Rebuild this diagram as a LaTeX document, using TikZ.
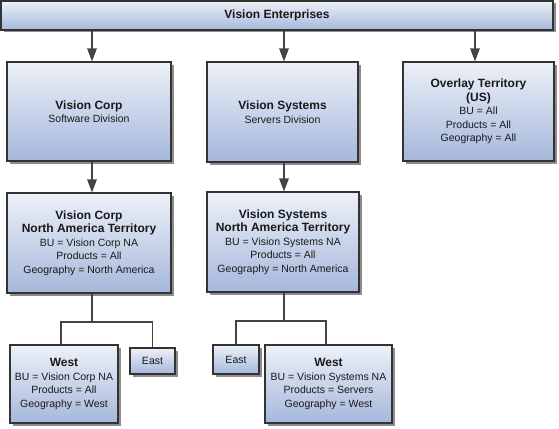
\documentclass[tikz,border=0pt]{standalone}
\usepackage{fontspec}
\setmainfont{Liberation Sans}
\usetikzlibrary{shadows,arrows.meta,calc}
\definecolor{boxtop}{HTML}{EDF1F8}
\definecolor{boxbot}{HTML}{A5B7DB}
\definecolor{edge}{HTML}{333333}
\definecolor{conn}{HTML}{444444}
\tikzset{
  tbox/.style={draw=edge, line width=1.1pt, top color=boxtop, bottom color=boxbot,
    inner sep=0pt, align=center, font=\fontsize{10.5}{13.5}\selectfont, text=black!90,
    drop shadow={shadow xshift=2.5pt, shadow yshift=-2.5pt, fill=black!45, opacity=1}},
  arr/.style={draw=conn, line width=1.3pt, -{Triangle[width=9.5pt,length=13pt]}},
  tline/.style={draw=conn, line width=1.2pt},
}
\newcommand{\hd}[1]{{\bfseries\fontsize{12}{14}\selectfont #1}}
\begin{document}
\begin{tikzpicture}[x=1pt,y=-1pt]
\useasboundingbox (0,0) rectangle (559,428);
\node[tbox, minimum width=552pt, minimum height=29pt] (top) at (277,15.5) {\hd{Vision Enterprises}};
\node[tbox, minimum width=164pt, minimum height=99pt] (vc) at (89,111.5) {\hd{Vision Corp}\\Software Division};
\node[tbox, minimum width=151pt, minimum height=100pt] (vs) at (282.5,112) {\hd{Vision Systems}\\Servers Division};
\node[tbox, minimum width=151pt, minimum height=99pt] (ov) at (478.5,111.5) {\hd{Overlay Territory}\\\hd{(US)}\\BU = All\\Products = All\\Geography = All};
\node[tbox, minimum width=164pt, minimum height=100pt] (vcna) at (89,243) {\hd{Vision Corp}\\\hd{North America Territory}\\BU = Vision Corp NA\\Products = All\\Geography = North America};
\node[tbox, minimum width=152pt, minimum height=100pt] (vsna) at (283,242) {\hd{Vision Systems}\\\hd{North America Territory}\\BU = Vision Systems NA\\Products = All\\Geography = North America};
\node[tbox, minimum width=108pt, minimum height=78pt] (wvc) at (64,384) {\hd{West}\\BU = Vision Corp NA\\Products = All\\Geography = West};
\node[tbox, minimum width=45pt, minimum height=26pt] (evc) at (152.5,361) {East};
\node[tbox, minimum width=46pt, minimum height=29pt] (evs) at (236,359.5) {East};
\node[tbox, minimum width=127pt, minimum height=78pt] (wvs) at (328.5,384) {\hd{West}\\BU = Vision Systems NA\\Products = Servers\\Geography = West};
% arrows
\coordinate (xa) at (92,0);
\coordinate (xb) at (284,0);
\coordinate (xc) at (475,0);
\draw[arr] (top.south -| xa) -- (vc.north -| xa);
\draw[arr] (top.south -| xb) -- (vs.north -| xb);
\draw[arr] (top.south -| xc) -- (ov.north -| xc);
\draw[arr] (vc.south -| xa) -- (vcna.north -| xa);
\draw[arr] (vs.south -| xb) -- (vsna.north -| xb);
% tree lines
\coordinate (j1) at (92,322);
\coordinate (j2) at (284,321);
\draw[tline] (vcna.south -| j1) -- (j1);
\draw[tline] ([xshift=-3pt]wvc.north) |- (j1) -| (evc.north);
\draw[tline] (vsna.south -| j2) -- (j2);
\draw[tline] (evs.north) |- (j2) -| ([xshift=-2.5pt]wvs.north);
\end{tikzpicture}
\end{document}
